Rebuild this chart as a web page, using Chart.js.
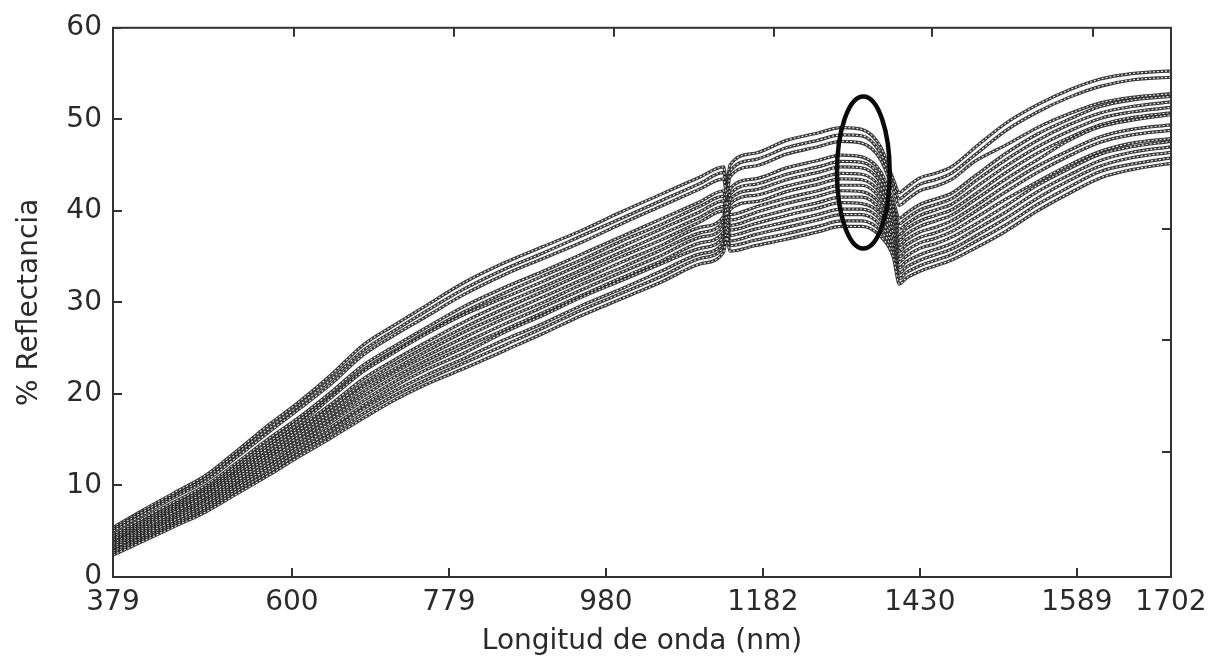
<!DOCTYPE html>
<html><head><meta charset="utf-8">
<script src="https://cdn.jsdelivr.net/npm/chart.js@4.4.1/dist/chart.umd.min.js"></script>
<style>html,body{margin:0;padding:0;background:#fff;}canvas{display:block;}</style>
</head><body>
<canvas id="c" width="1218" height="663"></canvas>
<script>
// spectral band index of each sample (x axis is band number; tick labels give nm)
const bandIndex = [1,20,40,60,80,100,120,140,160,180,200,225,250,275,300,325,350,375,390,392,394,410,430,450,465,478,490,498,502,506,515,525,535,550,570,590,610,630,650,675];
const xTickBands = [1,115,215,315,415,515,615,675];
const xTickLabels = ['379','600','779','980','1182','1430','1589','1702'];
const topTickBands = [116,218,320,422,523,625];
const yTickValues = [0,10,20,30,40,50,60];
const rightTickValues = [13.7,25.9,38.0];

// % reflectance of each sample spectrum
const spectrum01 = [5.4,7.3,9.2,11.1,13.8,16.6,19.2,22.1,25.3,27.5,29.6,32.2,34.3,36.1,37.9,39.9,41.8,43.7,44.8,43.0,45.0,46.3,47.7,48.5,49.1,48.9,47.0,43.5,42.0,42.5,43.6,44.1,44.8,46.9,49.6,51.6,53.2,54.4,55.0,55.3];
const spectrum02 = [5.2,7.1,8.9,10.8,13.5,16.2,18.8,21.6,24.7,26.9,29.0,31.5,33.6,35.4,37.3,39.2,41.1,43.0,44.2,42.4,44.3,45.6,46.9,47.7,48.3,48.2,46.3,42.9,41.3,41.8,42.9,43.4,44.1,46.1,48.8,50.8,52.4,53.6,54.3,54.6];
const spectrum03 = [5.0,6.8,8.7,10.5,13.1,15.8,18.4,21.1,24.2,26.4,28.4,30.9,33.0,34.8,36.6,38.6,40.5,42.4,43.5,41.7,43.7,44.9,46.2,47.0,47.6,47.4,45.6,42.3,40.6,41.1,42.2,42.7,43.4,45.4,47.2,49.1,50.6,51.8,52.4,52.8];
const spectrum04 = [4.6,6.4,8.2,10.0,12.5,15.1,17.5,20.2,23.1,25.2,27.2,29.6,31.6,33.4,35.3,37.2,39.1,41.0,42.2,40.4,42.4,43.5,44.7,45.5,46.1,45.9,44.3,41.1,39.2,39.7,40.7,41.3,41.9,43.8,46.3,48.4,50.0,51.4,52.1,52.5];
const spectrum05 = [4.4,6.1,7.9,9.7,12.2,14.7,17.2,19.8,22.6,24.7,26.7,29.0,31.0,32.9,34.7,36.7,38.5,40.5,41.6,39.8,41.8,42.9,44.0,44.8,45.4,45.3,43.7,40.6,38.6,39.1,40.1,40.7,41.3,43.2,45.6,47.7,49.4,50.7,51.4,51.9];
const spectrum06 = [4.2,5.9,7.7,9.5,11.9,14.4,16.8,19.6,22.4,24.5,26.5,28.7,30.5,32.3,34.2,36.1,38.0,39.9,41.1,39.3,41.2,42.3,43.4,44.2,44.8,44.7,43.1,40.1,38.0,38.5,39.5,40.1,40.7,42.5,44.9,47.0,48.7,50.1,50.8,51.3];
const spectrum07 = [4.0,5.7,7.5,9.3,11.6,14.1,16.4,18.9,21.6,23.7,25.6,27.9,29.9,31.7,33.6,35.5,37.4,39.3,40.5,38.7,40.7,41.7,42.7,43.5,44.1,44.0,42.5,39.6,37.4,38.0,38.9,39.5,40.1,41.8,44.2,46.3,48.0,49.4,50.2,50.7];
const spectrum08 = [3.8,5.5,7.3,9.0,11.4,13.7,16.1,18.5,21.1,23.2,25.1,27.3,29.3,31.2,33.1,35.0,36.8,38.8,40.0,38.2,40.1,41.0,42.1,42.9,43.5,43.4,41.9,39.1,36.8,37.4,38.3,38.9,39.5,41.2,43.5,45.6,47.7,49.2,49.9,50.5];
const spectrum09 = [3.7,5.3,7.1,8.8,11.1,13.4,15.7,18.1,20.7,22.7,24.6,26.8,28.7,30.6,32.5,34.4,36.2,38.2,39.4,41.0,39.6,40.4,41.4,42.2,42.8,42.8,41.3,38.6,36.2,36.8,37.7,38.2,38.9,40.5,42.8,44.9,46.6,48.1,48.9,49.4];
const spectrum10 = [3.5,5.1,6.8,8.5,10.8,13.1,15.4,17.7,20.2,22.3,24.1,26.2,28.2,30.0,32.0,33.8,35.7,37.6,38.9,40.5,39.0,39.8,40.8,41.6,42.2,42.1,40.7,38.1,35.6,36.2,37.1,37.6,38.3,39.9,42.1,44.2,46.0,47.5,48.3,48.8];
const spectrum11 = [3.3,4.9,6.6,8.3,10.5,12.8,15.0,17.3,19.7,21.8,23.6,25.6,27.6,29.5,31.4,33.3,35.1,37.1,38.3,39.9,38.4,39.2,40.1,40.9,41.5,41.5,40.1,37.6,35.0,35.6,36.5,37.0,37.7,39.2,41.3,43.2,45.0,46.5,47.4,47.9];
const spectrum12 = [3.1,4.7,6.4,8.1,10.2,12.4,14.6,16.9,19.2,21.3,23.1,25.1,27.0,28.9,30.8,32.7,34.5,36.5,37.7,39.3,37.9,38.6,39.5,40.3,40.9,40.8,39.6,37.0,34.4,35.0,35.9,36.4,37.1,38.5,40.6,42.8,44.6,46.2,47.0,47.6];
const spectrum13 = [2.9,4.5,6.2,7.8,10.0,12.1,14.3,16.4,18.7,20.8,22.6,24.5,26.7,28.6,30.6,32.4,34.2,35.9,37.2,38.8,37.3,38.0,38.8,39.6,40.2,40.2,39.0,36.5,33.8,34.4,35.2,35.8,36.4,37.9,39.9,42.1,43.9,45.5,46.4,47.0];
const spectrum14 = [2.8,4.3,5.9,7.6,9.7,11.8,13.9,16.0,18.3,20.3,22.0,23.9,25.9,27.7,29.7,31.5,33.4,35.3,36.6,38.2,36.7,37.4,38.2,39.0,39.6,39.6,38.4,36.0,33.2,33.8,34.6,35.2,35.8,37.2,39.2,41.4,43.3,44.9,45.8,46.4];
const spectrum15 = [2.6,4.1,5.7,7.3,9.4,11.4,13.6,15.6,17.8,19.8,21.5,23.4,25.3,27.2,29.2,31.0,32.8,34.8,36.1,37.7,36.2,36.8,37.5,38.3,38.9,38.9,37.8,35.5,32.6,33.2,34.0,34.6,35.2,36.6,38.5,40.7,42.6,44.3,45.1,45.8];
const spectrum16 = [2.4,3.9,5.5,7.1,9.1,11.1,13.2,15.2,17.3,19.3,21.0,22.8,24.7,26.6,28.6,30.4,32.2,34.2,35.5,37.1,35.6,36.2,36.9,37.7,38.3,38.3,37.2,35.0,32.0,32.6,33.4,34.0,34.6,35.9,37.8,40.0,41.9,43.6,44.5,45.2];

// highlighted region (data coordinates: band, % reflectance)
const ellipseCenter = {band: 479, value: 44.2};
const ellipseRadius = {band: 16.8, value: 8.3};

const spectra = [spectrum01,spectrum02,spectrum03,spectrum04,spectrum05,spectrum06,spectrum07,spectrum08,
                 spectrum09,spectrum10,spectrum11,spectrum12,spectrum13,spectrum14,spectrum15,spectrum16];

const N = spectra.length;
const datasets = [];
spectra.forEach((s, k) => {
  const pts = bandIndex.map((b, i) => ({x: b, y: s[i]}));
  datasets.push({data: pts, borderColor: 'rgba(35,35,35,0.9)', borderWidth: 3.2, pointRadius: 0,
    cubicInterpolationMode: 'monotone', order: 2 * (N - k)});
  datasets.push({data: pts, borderColor: 'rgba(248,248,248,0.95)', borderWidth: 1.1, borderDash: [2, 2], pointRadius: 0,
    cubicInterpolationMode: 'monotone', order: 2 * (N - k) - 1});
});

const TICK = 9;
const framePlugin = {
  id: 'frame',
  afterDatasetsDraw(chart) {
    const {ctx, chartArea: a, scales: {x, y}} = chart;
    ctx.save();
    // ellipse annotation
    const cx = x.getPixelForValue(ellipseCenter.band);
    const cy = y.getPixelForValue(ellipseCenter.value);
    const rx = Math.abs(x.getPixelForValue(ellipseCenter.band + ellipseRadius.band) - cx);
    const ry = Math.abs(y.getPixelForValue(ellipseCenter.value + ellipseRadius.value) - cy);
    ctx.beginPath();
    ctx.ellipse(cx, cy, rx, ry, 0, 0, Math.PI * 2);
    ctx.strokeStyle = '#0a0a0a';
    ctx.lineWidth = 4.5;
    ctx.stroke();
    // axes box
    ctx.strokeStyle = '#333';
    ctx.lineWidth = 2;
    ctx.strokeRect(a.left, a.top, a.right - a.left, a.bottom - a.top);
    ctx.beginPath();
    xTickBands.forEach(v => { const p = Math.round(x.getPixelForValue(v)); ctx.moveTo(p, a.bottom); ctx.lineTo(p, a.bottom - TICK); });
    topTickBands.forEach(v => { const p = Math.round(x.getPixelForValue(v)); ctx.moveTo(p, a.top); ctx.lineTo(p, a.top + TICK); });
    yTickValues.forEach(v => { const p = Math.round(y.getPixelForValue(v)); ctx.moveTo(a.left, p); ctx.lineTo(a.left + TICK, p); });
    rightTickValues.forEach(v => { const p = Math.round(y.getPixelForValue(v)); ctx.moveTo(a.right, p); ctx.lineTo(a.right - TICK, p); });
    ctx.stroke();
    ctx.restore();
  }
};

Chart.defaults.font.family = "'DejaVu Sans', sans-serif";
Chart.defaults.font.size = 28;
Chart.defaults.color = '#2a2a2a';

new Chart(document.getElementById('c'), {
  type: 'line',
  data: {datasets},
  options: {
    responsive: false,
    animation: false,
    events: [],
    layout: {padding: {left: 0, right: 47, top: 26, bottom: 0}},
    plugins: {legend: {display: false}, tooltip: {enabled: false}},
    scales: {
      x: {
        type: 'linear', position: 'bottom', min: 1, max: 675,
        afterBuildTicks: s => { s.ticks = xTickBands.map(v => ({value: v})); },
        afterFit: s => { s.height = 86; },
        ticks: {
          autoSkip: false, maxRotation: 0, padding: 9,
          callback: v => { const i = xTickBands.indexOf(v); return i >= 0 ? xTickLabels[i] : ''; }
        },
        grid: {display: false, drawTicks: false},
        border: {display: false},
        title: {display: true, text: 'Longitud de onda (nm)', padding: {top: 0, bottom: 4}}
      },
      y: {
        type: 'linear', min: 0, max: 60,
        afterBuildTicks: s => { s.ticks = yTickValues.map(v => ({value: v})); },
        afterFit: s => { s.width = 113; },
        ticks: {padding: 11},
        grid: {display: false, drawTicks: false},
        border: {display: false},
        title: {display: true, text: '% Reflectancia', padding: {top: 13, bottom: 0}}
      }
    }
  },
  plugins: [framePlugin]
});
</script>
</body></html>
